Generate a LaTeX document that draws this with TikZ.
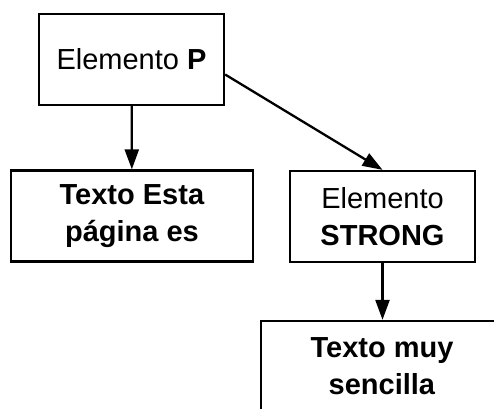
\documentclass[tikz,border=0pt]{standalone}
\usepackage{fontspec}
\setmainfont{Liberation Sans}
\usetikzlibrary{arrows.meta,positioning}

\begin{document}
\begin{tikzpicture}[
    x=1pt, y=-1pt,
    >={Triangle[length=20pt,width=14pt]},
    elbox/.style={draw=black, line width=2.3pt, fill=white,
        minimum width=#1, minimum height=91pt, inner sep=2pt,
        align=center, font=\fontsize{29}{37}\selectfont},
    elbox/.default=185pt,
    arrw/.style={->, black, line width=2.3pt},
]
\useasboundingbox (0,0) rectangle (494,408);
\clip (0,0) rectangle (494,408);

% === ELEMENTS ===
\node[elbox] (elemP) at (131.5, 59.5) {Elemento \textbf{P}};
\node[elbox=242pt] (txtEsta) at (132, 216) {\textbf{Texto Esta}\\\textbf{página es}};
\node[elbox] (elemStrong) at (382.5, 216.5) {Elemento\\\textbf{STRONG}};
\node[elbox=242pt] (txtMuy) at (382, 366.5) {\textbf{Texto muy}\\\textbf{sencilla}};

% === ARROWS ===
\draw[arrw] (elemP) -- (txtEsta);
\draw[arrw] ([yshift=-15pt]elemP.east) -- (elemStrong.north);
\draw[arrw] (elemStrong) -- (elemStrong |- txtMuy.north);

\end{tikzpicture}
\end{document}
